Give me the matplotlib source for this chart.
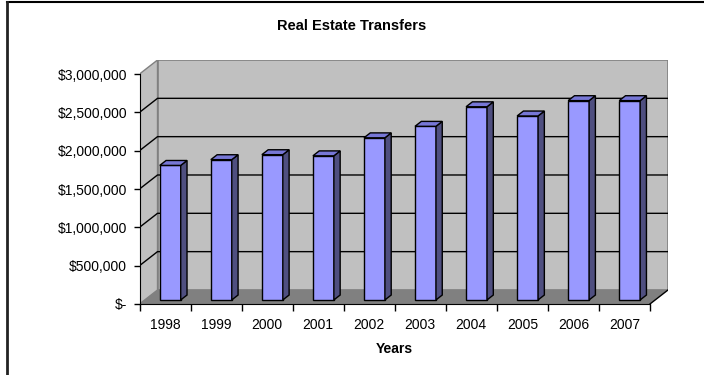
import matplotlib.pyplot as plt
from matplotlib.patches import Polygon
from matplotlib.lines import Line2D
from matplotlib.ticker import FuncFormatter

plt.rcParams['font.family'] = ['Liberation Sans', 'DejaVu Sans']

years = ['1998', '1999', '2000', '2001', '2002', '2003', '2004', '2005', '2006', '2007']
transfers = [1755000, 1830000, 1895000, 1880000, 2115000, 2265000, 2520000, 2400000, 2600000, 2600000]
y_ticks = [0, 500000, 1000000, 1500000, 2000000, 2500000, 3000000]

n = len(years)
ymax = 3000000
# fake 3d: depth of the floor in data units
dx, dy = 0.353, 183000
bar_w = 0.41
bar_pos = 0.29     # bar front plane, as a fraction of floor depth
bar_depth = 0.35

wall = '#c0c0c0'
floor = '#808080'
front = '#9999ff'
side = '#4f4f80'
top = '#7777d6'

fig = plt.figure(figsize=(7.04, 3.75), dpi=100)
ax = fig.add_axes([139.5 / 704, 71 / 375, 528.5 / 704, 244 / 375])
ax.set_xlim(0, n + dx)
ax.set_ylim(0, ymax + dy)

# side wall, back wall, floor
ax.add_patch(Polygon([(0, 0), (dx, dy), (dx, ymax + dy), (0, ymax)],
                     facecolor=wall, edgecolor='#808080', lw=1, zorder=1))
ax.add_patch(Polygon([(dx, dy), (n + dx, dy), (n + dx, ymax + dy), (dx, ymax + dy)],
                     facecolor=wall, edgecolor='#808080', lw=1.2, zorder=1))
ax.add_patch(Polygon([(0, 0), (n, 0), (n + dx, dy), (dx, dy)],
                     facecolor=floor, edgecolor='none', zorder=2))
ax.add_line(Line2D([n, n + dx], [0, dy], color='black', lw=1, zorder=3))

for v in y_ticks[1:-1]:
    ax.add_line(Line2D([0, dx, n + dx], [v, v + dy, v + dy], color='black', lw=1, zorder=2))

# bars: front faces through ax.bar, sides and tops as polygons
base = bar_pos * dy
xs = [i + 0.5 + bar_pos * dx for i in range(n)]
ax.bar(xs, transfers, bar_w, bottom=base, color=front, edgecolor='black', lw=1, zorder=4)
ox, oy = bar_depth * dx, bar_depth * dy
for x, v in zip(xs, transfers):
    l, r, t = x - bar_w / 2, x + bar_w / 2, v + base
    ax.add_patch(Polygon([(r, base), (r + ox, base + oy), (r + ox, t + oy), (r, t)],
                         facecolor=side, edgecolor='black', lw=1, zorder=4))
    ax.add_patch(Polygon([(l, t), (r, t), (r + ox, t + oy), (l + ox, t + oy)],
                         facecolor=top, edgecolor='black', lw=1, zorder=4))

for s in ['top', 'right']:
    ax.spines[s].set_visible(False)
ax.spines['left'].set_bounds(0, ymax)
ax.spines['bottom'].set_bounds(0, n)
ax.spines['left'].set_zorder(5)
ax.spines['bottom'].set_zorder(5)

ax.set_yticks(y_ticks)
ax.yaxis.set_major_formatter(FuncFormatter(lambda v, p: '$-' if v == 0 else '${:,.0f}'.format(v)))
ax.tick_params(axis='y', direction='out', length=4, width=1, pad=5, labelsize=10)

ax.set_xticks(range(n + 1))
ax.set_xticklabels([])
ax.set_xticks([i + 0.5 for i in range(n)], minor=True)
ax.set_xticklabels(years, minor=True)
ax.tick_params(axis='x', which='major', direction='out', length=5, width=1)
ax.tick_params(axis='x', which='minor', length=0, pad=10, labelsize=10)

ax.set_xlabel('Years', fontsize=10, fontweight='bold')
ax.xaxis.set_label_coords((n / 2) / (n + dx), -0.155)

fig.text(0.5, 1 - 26 / 375, 'Real Estate Transfers', ha='center', va='center',
         fontsize=10.5, fontweight='bold')

# chart area border
fig.add_artist(Line2D([7 / 704, 1], [1 - 2 / 375, 1 - 2 / 375], color='black', lw=1.5,
                      transform=fig.transFigure))
fig.add_artist(Line2D([7 / 704, 7 / 704], [0, 1 - 2 / 375], color='#222222', lw=2,
                      transform=fig.transFigure))

fig.savefig('out.png', dpi=100)
